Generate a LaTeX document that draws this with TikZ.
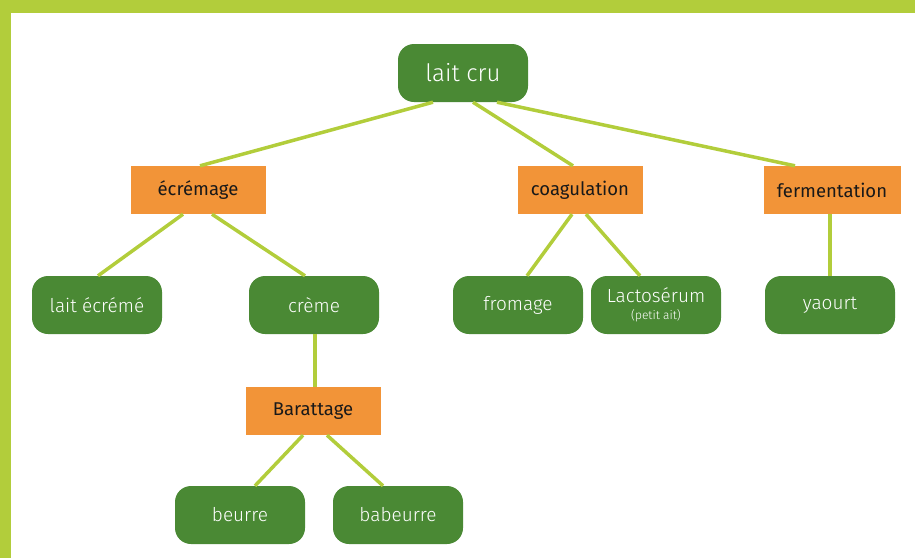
\documentclass[tikz,border=0pt]{standalone}
\usepackage{fontspec}
\setmainfont{Fira Sans}[UprightFont = * Light]
\newfontfamily\opfont{Fira Sans}
\definecolor{barcol}{RGB}{178,205,59}
\definecolor{boxgreen}{RGB}{74,137,52}
\definecolor{boxorange}{RGB}{242,148,56}

\begin{document}
\begin{tikzpicture}[x=1pt, y=-1pt, align=center,
	main/.style = {fill = boxgreen, text = white, rounded corners = 16pt, minimum width = 130pt, minimum height = 58pt, inner sep = 0pt, font = \fontsize{19}{21}\selectfont},
	op/.style = {fill = boxorange, text = black!90, minimum width = 135pt, minimum height = 48pt, inner sep = 0pt, font = \opfont\fontsize{18.5}{21}\selectfont},
	link/.style = {barcol, line width = 3.5pt}]
	\useasboundingbox (0,0) rectangle (915,558);
	\fill[barcol] (0,0) rectangle (915,13);
	\fill[barcol] (0,0) rectangle (11,558);
	\node[main, font = \fontsize{24}{26}\selectfont] (1) at (463,73) {lait cru};
	\node[op] (2) at (198,190) {écrémage};
	\node[op, minimum width = 125pt] (3) at (580,190) {coagulation};
	\node[op, minimum width = 137pt] (4) at (832,190) {fermentation};
	\node[main] (5) at (97,305) {lait écrémé};
	\node[main] (6) at (314,305) {crème};
	\node[main] (7) at (518,305) {fromage};
	\node[main] (8) at (656,305) {Lactosérum\\[-4pt]{\fontsize{12}{13}\selectfont (petit ait)}};
	\node[main] (9) at (830,305) {yaourt};
	\node[op] (10) at (313,411) {Barattage};
	\node[main] (11) at (240,515) {beurre};
	\node[main] (12) at (398,515) {babeurre};
	\draw[link] ([xshift=-30pt]1.south) -- ([xshift=2pt]2.north);
	\draw[link] ([xshift=10pt]1.south) -- ([xshift=-7pt]3.north);
	\draw[link] ([xshift=34pt]1.south) -- ([xshift=-37pt]4.north);
	\draw[link] ([xshift=-15pt]2.south) -- ([xshift=1pt]5.north);
	\draw[link] ([xshift=14pt]2.south) -- ([xshift=-9pt]6.north);
	\draw[link] ([xshift=1pt]6.south) -- ([xshift=2pt]10.north);
	\draw[link] ([xshift=-8pt]3.south) -- ([xshift=9pt]7.north);
	\draw[link] ([xshift=6pt]3.south) -- ([xshift=-16pt]8.north);
	\draw[link] ([xshift=-2pt]4.south) -- (9.north);
	\draw[link] ([xshift=-10pt]10.south) -- ([xshift=15pt]11.north);
	\draw[link] ([xshift=14pt]10.south) -- ([xshift=-15pt]12.north);
\end{tikzpicture}
\end{document}
